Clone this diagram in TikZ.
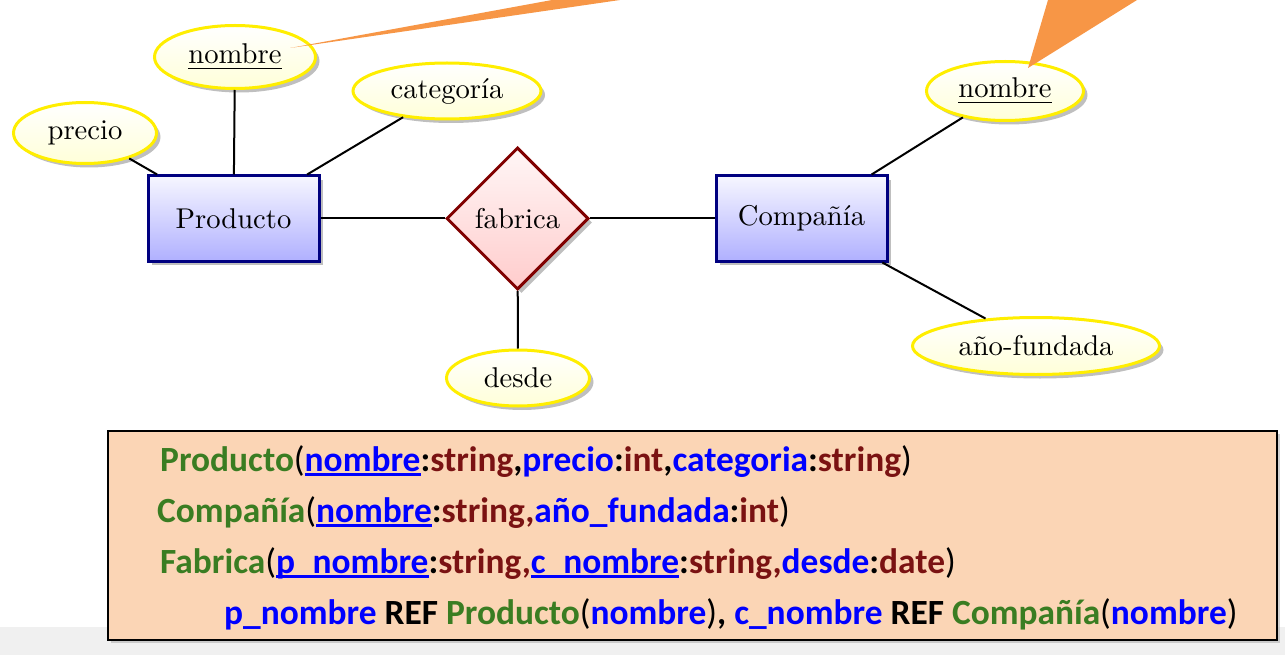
\documentclass[tikz,border=0pt]{standalone}
\usepackage{fontspec}
\usepackage{graphicx}
\newfontfamily\calib{Carlito}
\usetikzlibrary{shapes.geometric,shadows}
\definecolor{attrborder}{HTML}{FFEE00}
\definecolor{attrfill}{HTML}{FFFFD8}
\definecolor{entborder}{HTML}{000080}
\definecolor{enttop}{HTML}{F6F6FF}
\definecolor{entbot}{HTML}{B0B0FF}
\definecolor{relborder}{HTML}{800000}
\definecolor{reltop}{HTML}{FFF6F6}
\definecolor{relbot}{HTML}{FFCCCC}
\definecolor{wedge}{HTML}{F79646}
\definecolor{peach}{HTML}{FBD5B5}
\definecolor{cgreen}{HTML}{3A7D22}
\definecolor{cmaroon}{HTML}{7A1212}
\definecolor{cblue}{HTML}{0000FF}
\definecolor{strip}{HTML}{F0F0F0}
\newcommand{\G}[1]{\textcolor{cgreen}{#1}}
\newcommand{\M}[1]{\textcolor{cmaroon}{#1}}
\newcommand{\B}[1]{\textcolor{cblue}{#1}}
\newcommand{\BU}[1]{{\color{cblue}\setbox0\hbox{#1}\rlap{\rule[-4.5pt]{\wd0}{2.6pt}}\box0}}
\newcommand{\LP}{{\mdseries(}}
\newcommand{\RP}{{\mdseries)}}
\newcommand{\ert}[1]{\scalebox{2.86}{#1}}
\tikzset{
  er/.style={inner sep=0pt,
    drop shadow={shadow xshift=4pt, shadow yshift=-4pt, fill=black!25, opacity=1}},
  attr/.style={er, ellipse, draw=attrborder, line width=3pt, top color=white, bottom color=attrfill},
  entity/.style={er, rectangle, draw=entborder, line width=3pt, top color=enttop, bottom color=entbot,
    minimum width=171pt, minimum height=85pt},
  rel/.style={er, diamond, draw=relborder, line width=3pt, top color=reltop, bottom color=relbot,
    minimum width=142pt, minimum height=142pt},
  link/.style={line width=2pt, black},
  schemaline/.style={anchor=base west, inner sep=0pt, font=\calib\bfseries\fontsize{35.4}{42}\selectfont}
}
\begin{document}
\begin{tikzpicture}[x=1pt,y=-1pt]
\useasboundingbox (0,0) rectangle (1285,655);
\fill[strip] (0,627) rectangle (1285,655);
% ER nodes
\node[entity] (prod) at (233.5,218.5) {\ert{Producto}};
\node[entity] (comp) at (801.5,218.5) {\ert{Compañía}};
\node[rel] (fab) at (517.5,218.5) {\ert{fabrica}};
\node[attr, minimum width=143pt, minimum height=61pt] (precio) at (85,133) {\ert{precio}};
\node[attr, minimum width=161pt, minimum height=63pt] (pnom) at (235,57) {\ert{\underline{nombre}}};
\node[attr, minimum width=188pt, minimum height=56pt] (cat) at (447,91) {\ert{categoría}};
\node[attr, minimum width=143pt, minimum height=56pt] (desde) at (518,378) {\ert{desde}};
\node[attr, minimum width=157pt, minimum height=59pt] (cnom) at (1005,91) {\ert{\underline{nombre}}};
\node[attr, minimum width=247pt, minimum height=57pt] (anio) at (1036,346) {\ert{año-fundada}};
% connectors
\draw[link] (precio) -- (prod);
\draw[link] (pnom) -- (prod);
\draw[link] (cat) -- (prod);
\draw[link] (prod) -- (fab);
\draw[link] (fab) -- (comp);
\draw[link] (fab) -- (desde);
\draw[link] (comp) -- (cnom);
\draw[link] (comp) -- (anio);
% orange pointer wedges
\fill[wedge] (290,48) -- (552,0) -- (620,0) -- cycle;
\fill[wedge] (1028,68) -- (1048,0) -- (1137,0) -- cycle;
% schema box
\node[draw=black, line width=1.6pt, fill=peach, minimum width=1169pt, minimum height=209pt, inner sep=0pt,
  drop shadow={shadow xshift=3pt, shadow yshift=-3pt, fill=black!30, opacity=0.6}]
  (box) at (692.5,535.5) {};
\node[schemaline] (l1) at (160,471) {\G{Producto}\LP\BU{nombre}:\M{string},\B{precio}:\M{int},\B{categoria}:\M{string}\RP};
\node[schemaline] (l2) at (157,522) {\G{Compañía}\LP\BU{nombre}:\M{string,}\B{año\_fundada}:\M{int}\RP};
\node[schemaline] (l3) at (160,573) {\G{Fabrica}\LP\BU{p\_nombre}:\M{string,}\BU{c\_nombre}:\M{string,}\B{desde}:\M{date}\RP};
\node[schemaline] (l4) at (224,624) {\B{p\_nombre} REF \G{Producto}\LP\B{nombre}\RP, \B{c\_nombre} REF \G{Compañía}\LP\B{nombre}\RP};
\end{tikzpicture}
\end{document}
